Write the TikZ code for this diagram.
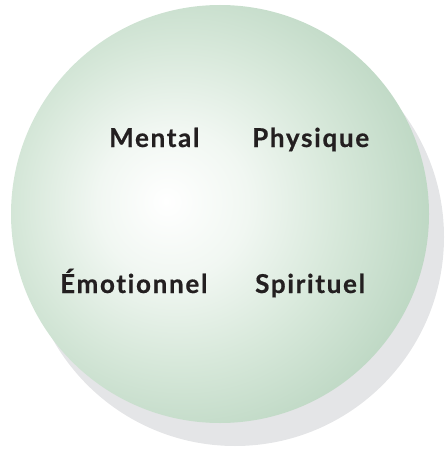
\documentclass[tikz,border=0pt]{standalone}
\usepackage{fontspec}
\newfontfamily\labelfont[LetterSpace=6.5,Ligatures={NoCommon,NoRare},FakeBold=0.6]{Lato}
\definecolor{shadowgray}{HTML}{E4E5E7}
\definecolor{textdark}{HTML}{231F20}
\definecolor{g0}{HTML}{FFFFFF}
\definecolor{g1}{HTML}{F1F7F2}
\definecolor{g2}{HTML}{D7E8DA}
\definecolor{g3}{HTML}{BED8C4}
\definecolor{g4}{HTML}{A8C8AF}
\definecolor{g5}{HTML}{9CBDA3}
\pgfdeclareradialshading{ballsh}{\pgfpoint{-6.5bp}{1.5bp}}{%
  color(0bp)=(g0); color(9bp)=(g1); color(19bp)=(g2); color(29bp)=(g3);
  color(38bp)=(g4); color(44bp)=(g5); color(70bp)=(g5)}
\tikzset{
  lbl/.style={font=\labelfont\bfseries\fontsize{26}{30}\selectfont, text=textdark, inner sep=0pt, anchor=base west},
}
\begin{document}
\begin{tikzpicture}[x=1pt,y=-1pt]
\useasboundingbox (0,0) rectangle (444,449);
\fill[shadowgray] (235,237) circle (209pt);
\shade[shading=ballsh] (220,214) circle (209pt);
\node[lbl] (mental) at (109,147) {Mental};
\node[lbl] (physique) at (252,147) {Physique};
\node[lbl] (emotionnel) at (60,293) {Émotionnel};
\node[lbl] (spirituel) at (255,293) {Spirituel};
\end{tikzpicture}
\end{document}
